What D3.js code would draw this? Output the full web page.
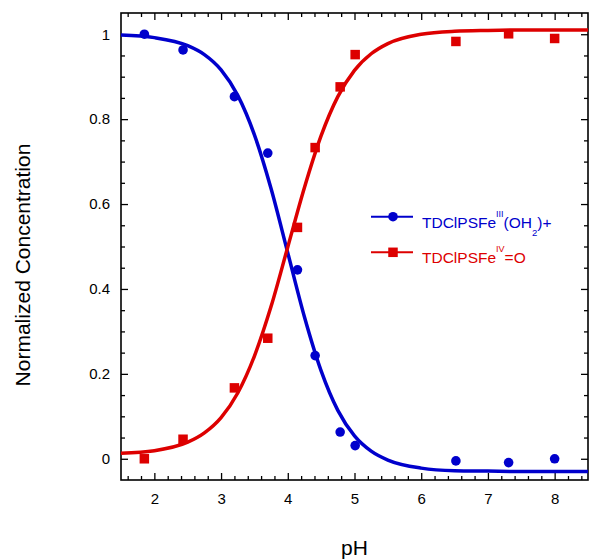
<!DOCTYPE html>
<html>
<head>
<meta charset="utf-8">
<script src="https://cdn.jsdelivr.net/npm/d3@7"></script>
<style>
  html, body { margin: 0; padding: 0; background: #fff; }
  svg { display: block; font-family: "Liberation Sans", Arial, Helvetica, sans-serif; }
</style>
</head>
<body>
<svg id="chart" width="589" height="560"></svg>
<script>
// Measured pH points (shared by both species)
const pH = [1.85, 2.43, 3.2, 3.7, 4.145, 4.41, 4.785, 5.01, 6.52, 7.31, 8.0];
// TDClPSFe(III)(OH2)+ fraction
const feIII = [1.0, 0.963, 0.853, 0.720, 0.445, 0.243, 0.063, 0.031, -0.005, -0.009, 0.0];
// TDClPSFe(IV)=O fraction
const feIV = [0.0, 0.046, 0.167, 0.284, 0.545, 0.733, 0.876, 0.952, 0.983, 1.001, 0.990];

// Fitted titration curves, sampled along pH
const fitPH = [1.5, 2.0, 2.5, 2.75, 3.0, 3.25, 3.5, 3.75, 4.0, 4.25, 4.5, 4.75, 5.0, 5.25, 5.5, 6.0, 6.5, 7.0, 7.5, 8.0, 8.5];
const fitIII = [0.998, 0.992, 0.973, 0.952, 0.916, 0.856, 0.763, 0.636, 0.485, 0.334, 0.207, 0.114, 0.054, 0.018, -0.003, -0.022, -0.028, -0.029, -0.030, -0.030, -0.030];
const fitIV = [0.013, 0.019, 0.039, 0.061, 0.097, 0.155, 0.242, 0.359, 0.499, 0.639, 0.761, 0.853, 0.915, 0.954, 0.978, 1.000, 1.007, 1.009, 1.010, 1.010, 1.010];

// Axis ticks
const xTicks = [2, 3, 4, 5, 6, 7, 8];
const xTickLabels = ["2", "3", "4", "5", "6", "7", "8"];
const yTicks = [0, 0.2, 0.4, 0.6, 0.8, 1];
const yTickLabels = ["0", "0.2", "0.4", "0.6", "0.8", "1"];

const blue = "#0000cc";
const red = "#dd0000";

const svg = d3.select("#chart");
const plotLeft = 121, plotRight = 588, plotTop = 13, plotBottom = 480;

const x = d3.scaleLinear().domain([1.5, 8.5]).range([plotLeft, plotRight]);
const y = d3.scaleLinear().domain([-0.05, 1.05]).range([plotBottom, plotTop]);

const xMinor = d3.range(16, 85, 2).map(v => v / 10).filter(v => Math.abs(v - Math.round(v)) > 1e-9);
const yMinor = d3.range(0, 21).map(v => v * 0.05).filter(v => Math.abs(v * 5 - Math.round(v * 5)) > 1e-9);

const majorLen = 7, minorLen = 4;

function styleAxis(g) {
  g.select(".domain").remove();
  g.selectAll(".tick line").attr("stroke", "#000").attr("stroke-width", 1.3);
  g.selectAll(".tick text").attr("fill", "#000").style("font-size", "15px");
}

// Bottom axis (labels) + minor ticks
svg.append("g").attr("transform", `translate(0,${plotBottom})`)
  .call(d3.axisBottom(x).tickValues(xTicks).tickFormat((d, i) => xTickLabels[i])
    .tickSizeInner(-majorLen).tickSizeOuter(0).tickPadding(13))
  .call(styleAxis);
svg.append("g").attr("transform", `translate(0,${plotBottom})`)
  .call(d3.axisBottom(x).tickValues(xMinor).tickFormat("").tickSizeInner(-minorLen).tickSizeOuter(0))
  .call(styleAxis);

// Top axis (ticks only)
svg.append("g").attr("transform", `translate(0,${plotTop})`)
  .call(d3.axisTop(x).tickValues(xTicks).tickFormat("").tickSizeInner(-majorLen).tickSizeOuter(0))
  .call(styleAxis);
svg.append("g").attr("transform", `translate(0,${plotTop})`)
  .call(d3.axisTop(x).tickValues(xMinor).tickFormat("").tickSizeInner(-minorLen).tickSizeOuter(0))
  .call(styleAxis);

// Left axis (labels) + minor ticks
svg.append("g").attr("transform", `translate(${plotLeft},0)`)
  .call(d3.axisLeft(y).tickValues(yTicks).tickFormat((d, i) => yTickLabels[i])
    .tickSizeInner(-majorLen).tickSizeOuter(0).tickPadding(11))
  .call(styleAxis);
svg.append("g").attr("transform", `translate(${plotLeft},0)`)
  .call(d3.axisLeft(y).tickValues(yMinor).tickFormat("").tickSizeInner(-minorLen).tickSizeOuter(0))
  .call(styleAxis);

// Right axis (ticks only)
svg.append("g").attr("transform", `translate(${plotRight},0)`)
  .call(d3.axisRight(y).tickValues(yTicks).tickFormat("").tickSizeInner(-majorLen).tickSizeOuter(0))
  .call(styleAxis);
svg.append("g").attr("transform", `translate(${plotRight},0)`)
  .call(d3.axisRight(y).tickValues(yMinor).tickFormat("").tickSizeInner(-minorLen).tickSizeOuter(0))
  .call(styleAxis);

// Plot frame
svg.append("rect")
  .attr("x", plotLeft).attr("y", plotTop)
  .attr("width", plotRight - plotLeft).attr("height", plotBottom - plotTop)
  .attr("fill", "none").attr("stroke", "#000").attr("stroke-width", 1.6);

// Fitted curves
const line = d3.line().x(d => x(d[0])).y(d => y(d[1])).curve(d3.curveMonotoneX);
svg.append("path").datum(fitPH.map((p, i) => [p, fitIII[i]]))
  .attr("d", line).attr("fill", "none").attr("stroke", blue).attr("stroke-width", 3.5);
svg.append("path").datum(fitPH.map((p, i) => [p, fitIV[i]]))
  .attr("d", line).attr("fill", "none").attr("stroke", red).attr("stroke-width", 3.5);

// Data markers
svg.append("g").selectAll("circle").data(pH.map((p, i) => [p, feIII[i]])).join("circle")
  .attr("cx", d => x(d[0])).attr("cy", d => y(d[1])).attr("r", 4.8).attr("fill", blue);
const sq = 9.5;
svg.append("g").selectAll("rect").data(pH.map((p, i) => [p, feIV[i]])).join("rect")
  .attr("x", d => x(d[0]) - sq / 2).attr("y", d => y(d[1]) - sq / 2)
  .attr("width", sq).attr("height", sq).attr("fill", red);

// Axis titles
svg.append("text").attr("x", (plotLeft + plotRight) / 2).attr("y", 555)
  .attr("text-anchor", "middle").style("font-size", "21px").attr("fill", "#000").text("pH");
svg.append("text").attr("transform", "translate(30,265) rotate(-90)")
  .attr("text-anchor", "middle").style("font-size", "21px").attr("fill", "#000").text("Normalized Concentration");

// Legend
const legend = svg.append("g");
const lx0 = 371, lx1 = 413, lmx = 393, tx = 422;
// Fe(III) entry
legend.append("line").attr("x1", lx0).attr("x2", lx1).attr("y1", 216.7).attr("y2", 216.7)
  .attr("stroke", blue).attr("stroke-width", 2);
legend.append("circle").attr("cx", lmx).attr("cy", 216.7).attr("r", 4.8).attr("fill", blue);
const t1 = legend.append("text").attr("x", tx).attr("y", 227.7).attr("fill", blue).style("font-size", "15.5px");
t1.append("tspan").text("TDClPSFe");
t1.append("tspan").attr("dy", -10.5).style("font-size", "9px").text("III");
t1.append("tspan").attr("dy", 10.5).text("(OH");
t1.append("tspan").attr("dy", 8).style("font-size", "9.5px").text("2");
t1.append("tspan").attr("dy", -8).text(")+");
// Fe(IV)=O entry
legend.append("line").attr("x1", lx0).attr("x2", lx1).attr("y1", 252.3).attr("y2", 252.3)
  .attr("stroke", red).attr("stroke-width", 2);
legend.append("rect").attr("x", lmx - sq / 2).attr("y", 252.3 - sq / 2)
  .attr("width", sq).attr("height", sq).attr("fill", red);
const t2 = legend.append("text").attr("x", tx).attr("y", 263.3).attr("fill", red).style("font-size", "15.5px");
t2.append("tspan").text("TDClPSFe");
t2.append("tspan").attr("dy", -11).style("font-size", "9px").text("IV");
t2.append("tspan").attr("dy", 11).text("=O");
</script>
</body>
</html>
